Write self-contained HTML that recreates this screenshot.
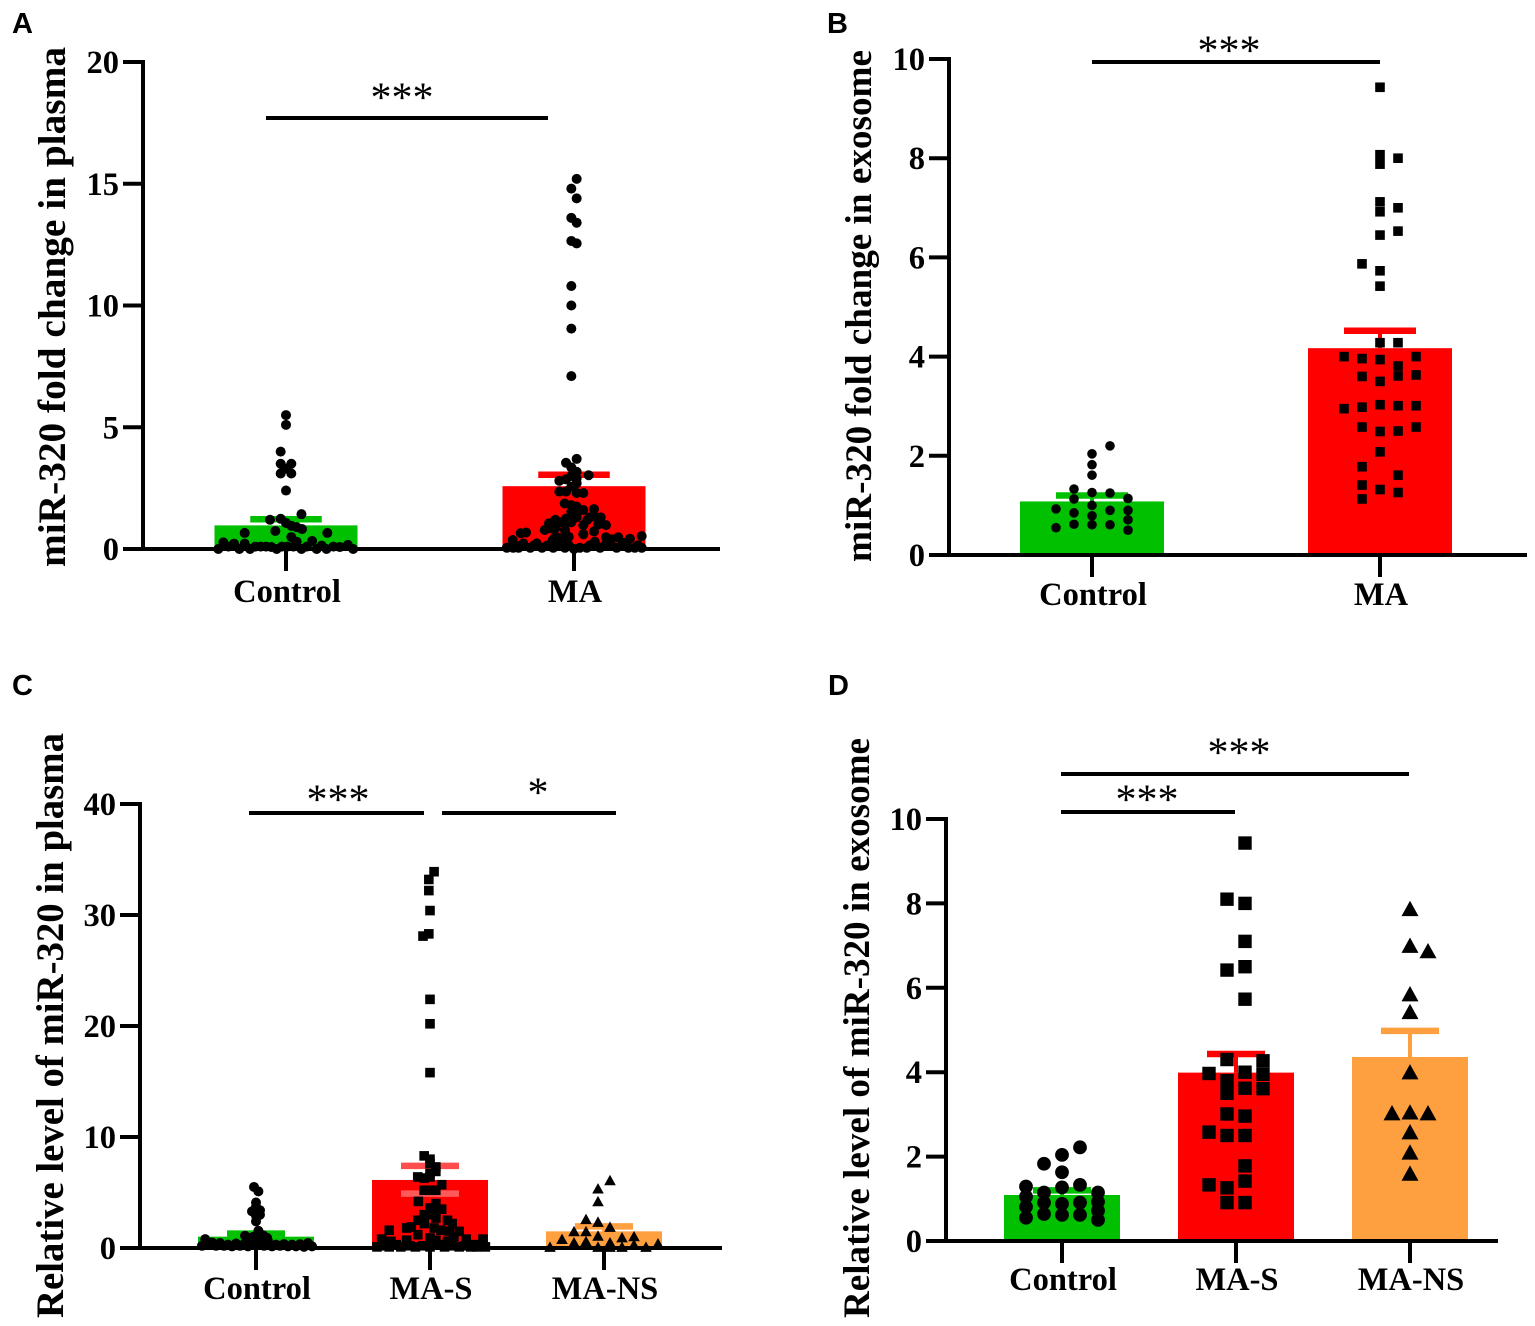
<!DOCTYPE html>
<html lang="en">
<head>
<meta charset="utf-8">
<title>miR-320 expression panels</title>
<style>
html,body{margin:0;padding:0;background:#fff;}
svg{display:block;}
text{font-family:"Liberation Serif",serif;fill:#000;}
.tick{font-weight:bold;font-size:32.5px;}
.title{font-weight:bold;}
.panel{font-family:"Liberation Sans",sans-serif;font-weight:bold;font-size:29px;}
.star{font-size:42px;}
</style>
</head>
<body>
<svg id="figure" xmlns="http://www.w3.org/2000/svg" width="1535" height="1326" viewBox="0 0 1535 1326"></svg>
<script>
// ---------- Panel A data ----------
const categoriesA = ['Control', 'MA'];
const meansA = [0.97, 2.58];
const errorsUpperA = [1.22, 3.05];
const errorsLowerA = [0.97, 2.58];
const ticksA = [0, 5, 10, 15, 20];
const controlValuesA = [5.5,5.1,4.0,3.5,3.5,3.1,3.1,3.3,2.4,1.43,1.2,1.24,1.07,0.95,0.9,0.82,0.74,0.66,0.66,0.49,0.33,0.3,
  0,0.27,0.1,0.22,0,0.22,0,0.1,0.1,0.1,0.08,0,0.1,0.1,0.1,0,0.1,0,0.14,0,0.1,0.08,0.17,0];
const controlSlotsA = [0,0,-1,-1,1,-1,1,0,0,2.9,-3,-1,0,1,2,3,-2,-7.75,7.75,1,4.9,2,
  -12.7,-11.75,-10.8,-9.75,-8.75,-7.75,-6.75,-5.75,-4.75,-3.75,-2.75,-1.75,-0.75,0.25,1.4,2.9,3.9,5.75,6.7,7.6,8.9,10.1,11.6,12.6];
const maValuesA = [15.2,14.8,14.4,13.6,13.4,12.65,12.55,10.8,10.0,9.05,7.1,3.7,3.54,3.35,3.17,3.03,3.0,2.9,2.86,2.8,2.7,2.56,2.36,2.36,2.3,2.3,
  1.87,1.8,1.74,1.6,1.64,1.53,1.45,1.35,1.3,1.3,1.25,1.2,1.25,1.3,1.2,1.05,1.1,1.05,1.1,1.0,0.98,0.98,0.78,0.85,0.85,0.78,0.72,0.62,0.5,0.45,0.5,
  0.65,0.68,0.37,0.23,0.23,0.37,0.45,0.6,0.3,0.48,0.4,0.48,0.42,0.53,0.25,
  0.05,0.05,0.05,0.05,0.05,0.05,0.05,0,0.05,0.05,0.05,0.05,0.05,0.05,0.05,
  0.15,0.15,0.15,0.15,0.15,0.15,0.15,0.15,0.15,0.15];
const maSlotsA = [0.5,-0.5,0.5,-0.5,0.5,-0.5,0.5,-0.5,-0.5,-0.5,-0.5,0.5,-1.5,-0.5,0.5,2.75,-0.5,0.5,-1.5,-2.75,0.5,-0.5,-1.5,-2.75,0.5,1.75,
  -1.75,-0.5,0.5,1.75,3.75,-0.5,0.5,3.75,5,3,-1.5,-3.5,-0.5,0.5,2.5,-4.7,-2.7,-1.7,-0.5,4.5,6,1.75,-5.5,-4.5,-3.5,-1.7,3.75,1.75,-3.5,-2,-1,
  -10,-9,-11.5,-9.5,-7,-4,-2.7,1.75,3.9,6,7,8.3,10.5,12.7,9.25,
  -12.6,-11.4,-10.4,-8.2,-6,-3.9,-1.7,0,1.1,2.4,4.9,8,10.2,11.4,12.7,
  -10,-7.5,-5,-2.8,-1,3,5.8,7,9,12];

// ---------- Panel B data ----------
const categoriesB = ['Control', 'MA'];
const meansB = [1.08, 4.17];
const errorsUpperB = [1.2, 4.52];
const errorsLowerB = [1.08, 4.17];
const ticksB = [0, 2, 4, 6, 8, 10];
const controlValuesB = [2.2,2.04,1.82,1.61,1.33,1.26,1.25,1.13,1.14,0.93,1.0,0.9,0.9,0.85,0.79,0.71,0.62,0.61,0.61,0.55,0.5];
const controlSlotsB = [1,0,0,0,-1,0,1,-1,2,-2,0,1,2,-1,0,2,-1,0,1,-2,2];
const maValuesB = [9.43,8.07,8.0,7.88,7.12,7.0,6.92,6.53,6.45,5.87,5.73,5.42,
  4.28,4.28,4.0,3.96,3.94,4.0,3.81,3.6,3.61,3.63,3.5,3.03,2.98,3.01,3.01,2.95,2.58,2.49,2.5,2.58,2.08,1.78,1.61,1.41,1.32,1.26,1.13];
const maSlotsB = [0,0,1,0,0,1,0,1,0,-1,0,0,
  0,1,-2,-1,0,2,1,-1,1,2,0,0,-1,1,2,-2,-1,0,1,2,0,-1,1,-1,0,1,-1];

// ---------- Panel C data ----------
const categoriesC = ['Control', 'MA-S', 'MA-NS'];
const meansC = [1.02, 6.13, 1.5];
const errorsUpperC = [1.3, 7.4, 1.95];
const errorsLowerC = [1.02, 4.9, 1.5];
const ticksC = [0, 10, 20, 30, 40];
const controlValuesC = [5.5,5.1,4.1,3.7,3.3,3.4,2.9,3.0,2.4,1.55,1.1,0.9,1.0,0.9,1.15,0.9,0.6,0.6,
  0.2,0.8,0.3,0.5,0.2,0.45,0.2,0.3,0.15,0.4,0.2,0.35,0.15,0.4,0.3,0.5,0.2,0.4,0.15,0.3,0.2,0.35,0.15,0.3,0.15,0.35,0.1,0.45,0.15];
const controlSlotsC = [-0.5,0.6,0,0,-1,1,0,1,0,0.6,-2.75,-1.7,-0.7,0.6,1.8,2.8,3,-0.3,
  -13.5,-12.7,-12,-11,-10,-9,-8,-7,-6,-5,-4,-3,-2,-1,0,1,2,3,4,5,6,7,8,9,10,11,12,13,14];
const masValuesC = [33.9,33.2,32.2,30.4,28.3,28.1,22.4,20.2,15.8,
  8.3,8.0,7.6,7.3,6.9,6.7,6.4,6.3,6.4,5.7,5.2,5.2,5.2,4.2,4.0,3.6,3.5,3.3,3.0,3.0,2.5,2.7,2.5,2.2,2.2,1.8,1.9,1.6,1.8,1.6,1.5,1.5,1.2,0.9,0.8,0.7,0.7,1.0,0.8,0.8,0.6,0.6,
  0.1,0.2,0.1,0.3,0.1,0.2,0.1,0.2,0.1,0.3,0.1,0.2,0.1,0.2,0.1,0.3,0.1,0.2,0.1];
const masSlotsC = [0.7,-0.2,-0.2,0,-0.2,-1.2,0,0,0,
  -1,0,0,1,1,0,-2.1,-1,0,2,-1,0,1,-2,1,0,2,1,-1,0,-2.1,1,3,3.8,-1,-4,-3.2,-7,0.7,1.9,3.3,5,-2.1,0,-8.3,-4,1,4.1,6.2,9.1,-6.7,3,
  -9.1,-8,-7,-5.8,-5,-3.5,-2.5,-1.2,0,1.5,2.5,3.7,5,6,7,7.5,8,8.6,9.5];
const nsValuesC = [6.1,5.35,4.2,2.6,2.35,1.9,1.5,1.5,1.1,0.8,0.95,1.05,0.5,0.6,0.5,0.1,0.1,0.1,0.1,0.4,0.3,0.1];
const nsSlotsC = [0.5,-0.5,-0.5,-1.5,-0.5,0.5,-2.5,-1.5,-0.5,-3.5,1.5,2.5,-2.5,-1.5,0.5,-4.5,-0.5,1.5,3.5,4.5,2.5,0.5];

// ---------- Panel D data ----------
const categoriesD = ['Control', 'MA-S', 'MA-NS'];
const meansD = [1.09, 3.99, 4.36];
const errorsUpperD = [1.2, 4.43, 4.98];
const errorsLowerD = [1.09, 3.99, 4.36];
const ticksD = [0, 2, 4, 6, 8, 10];
const controlValuesD = [2.22,2.04,1.83,1.63,1.29,1.27,1.33,1.15,1.15,1.05,0.91,0.88,0.91,0.93,0.81,0.64,0.62,0.62,0.72,0.55,0.5];
const controlSlotsD = [1,0,-1,0,-2,0,1,-1,2,-2,-1,0,1,2,-2,-1,0,1,2,-2,2];
const masValuesD = [9.43,8.1,8.0,7.1,6.5,6.42,5.73,4.3,4.27,3.97,4.0,3.95,3.8,3.62,3.61,3.5,3.01,2.96,2.58,2.5,2.5,1.78,1.42,1.33,1.26,0.91,0.91];
const masSlotsD = [0.5,-0.5,0.5,0.5,0.5,-0.5,0.5,-0.5,1.5,-1.5,0.5,1.5,-0.5,0.5,1.5,-0.5,-0.5,0.5,-1.5,-0.5,0.5,0.5,0.5,-1.5,-0.5,-0.5,0.5];
const nsValuesD = [7.87,7.0,6.87,5.85,5.43,4.0,3.03,3.05,3.03,2.58,2.1,1.6];
const nsSlotsD = [0,0,1,0,0,0,-1,0,1,0,0,0];

// ---------- Layout ----------
const NS = 'http://www.w3.org/2000/svg';
const figure = document.getElementById('figure');
const GREEN = '#00c000', RED = '#ff0000', ORANGE = '#ffa040';

function make(tag, attrs, text) {
  const node = document.createElementNS(NS, tag);
  for (const key in attrs) node.setAttribute(key, attrs[key]);
  if (text !== undefined) node.textContent = text;
  figure.appendChild(node);
  return node;
}

function yScale(p, v) { return p.y0 - (v - p.ticks[0]) * (p.y0 - p.y1) / (p.ticks[p.ticks.length - 1] - p.ticks[0]); }
function xScale(p, i) { return p.cx0 + i * p.cxStep; }

function drawMark(p, shape, x, y, s) {
  let m;
  if (shape === 'circle') {
    m = make('circle', {cx: x, cy: y, r: s, fill: '#000'});
  } else if (shape === 'square') {
    m = make('rect', {x: x - s, y: y - s, width: 2 * s, height: 2 * s, fill: '#000'});
  } else {
    m = make('polygon', {points: (x - s) + ',' + (y + s * 0.85) + ' ' + (x + s) + ',' + (y + s * 0.85) + ' ' + x + ',' + (y - s * 0.95), fill: '#000'});
  }
  
  
}

function drawPanel(p) {
  const letter = make('text', {x: p.letterX, y: p.letterY, class: 'panel'}, p.letter);
  
  

  const titleCy = (p.titleTop + p.titleBottom) / 2;
  const title = make('text', {x: p.titleX, y: titleCy, class: 'title', 'font-size': p.titleSize, 'text-anchor': 'middle', transform: 'rotate(-90 ' + p.titleX + ' ' + titleCy + ')', textLength: p.titleBottom - p.titleTop, lengthAdjust: 'spacingAndGlyphs'}, p.title);
  
  

  p.categories.forEach(function (cat, i) {
    const cx = xScale(p, i);
    const top = yScale(p, p.means[i]);
    const bar = make('rect', {x: cx - p.barW / 2, y: top, width: p.barW, height: p.y0 - top, fill: p.colors[i]});
    
    

    const up = yScale(p, p.upper[i]);
    const low = yScale(p, p.lower[i]);
    const stem = make('line', {x1: cx, x2: cx, y1: low, y2: up, stroke: p.colors[i], 'stroke-width': 4});
    
    
    const cap = make('line', {x1: cx - p.barW / 4, x2: cx + p.barW / 4, y1: up, y2: up, stroke: p.capColors ? p.capColors[i] : p.colors[i], 'stroke-width': 6.5});
    
    
    if (p.lower[i] < p.means[i]) {
      const capLow = make('line', {x1: cx - p.barW / 4, x2: cx + p.barW / 4, y1: low, y2: low, stroke: '#ff5a5a', 'stroke-width': 6.5});
      
      
    }
  });

  const yAxis = make('line', {x1: p.axisX, x2: p.axisX, y1: p.y1 - 2, y2: p.y0 + 2, stroke: '#000', 'stroke-width': 4});
  
  
  const xAxis = make('line', {x1: p.axisX - 20, x2: p.axisEnd, y1: p.y0, y2: p.y0, stroke: '#000', 'stroke-width': 4});
  
  

  p.ticks.forEach(function (t) {
    const y = yScale(p, t);
    const tick = make('line', {x1: p.axisX - 20, x2: p.axisX, y1: y, y2: y, stroke: '#000', 'stroke-width': 4});
    
    
    const label = make('text', {x: p.axisX - 24, y: y + 11, class: 'tick', 'text-anchor': 'end'}, t);
    
    
  });

  p.categories.forEach(function (cat, i) {
    const cx = xScale(p, i);
    const tick = make('line', {x1: cx, x2: cx, y1: p.y0, y2: p.y0 + 22, stroke: '#000', 'stroke-width': 4});
    
    
    const label = make('text', {x: cx + 1, y: p.catY, class: 'tick', 'text-anchor': 'middle'}, cat);
    
    
  });

  p.series.forEach(function (s, i) {
    s.values.forEach(function (v, j) {
      drawMark(p, s.shape, xScale(p, i) + s.slots[j] * s.step, yScale(p, v), s.size);
    });
  });

  p.sigs.forEach(function (g) {
    const line = make('line', {x1: g.x1, x2: g.x2, y1: g.y, y2: g.y, stroke: '#000', 'stroke-width': 4});
    
    
    const star = make('text', {x: g.sx, y: g.sy, class: 'star', 'text-anchor': 'middle'}, g.label);
    
    
  });
}

drawPanel({
  letter: 'A', letterX: 12, letterY: 33,
  title: 'miR-320 fold change in plasma', titleX: 65, titleTop: 47, titleBottom: 567, titleSize: 39,
  categories: categoriesA, means: meansA, upper: errorsUpperA, lower: errorsLowerA, ticks: ticksA,
  colors: [GREEN, RED],
  axisX: 143, axisEnd: 720, y0: 549, y1: 62, cx0: 286, cxStep: 288, barW: 143, catY: 602,
  series: [
    {values: controlValuesA, slots: controlSlotsA, shape: 'circle', size: 5, step: 5.33},
    {values: maValuesA, slots: maSlotsA, shape: 'circle', size: 5, step: 5.33}
  ],
  sigs: [{x1: 266, x2: 548, y: 118, sx: 402, sy: 111.5, label: '***'}]
});

drawPanel({
  letter: 'B', letterX: 827, letterY: 33,
  title: 'miR-320 fold change in exosome', titleX: 871, titleTop: 50, titleBottom: 562, titleSize: 37.2,
  categories: categoriesB, means: meansB, upper: errorsUpperB, lower: errorsLowerB, ticks: ticksB,
  colors: [GREEN, RED],
  axisX: 949, axisEnd: 1527, y0: 555, y1: 59, cx0: 1092, cxStep: 288, barW: 144, catY: 605,
  series: [
    {values: controlValuesB, slots: controlSlotsB, shape: 'circle', size: 4.8, step: 18},
    {values: maValuesB, slots: maSlotsB, shape: 'square', size: 4.8, step: 18}
  ],
  sigs: [{x1: 1092, x2: 1380, y: 62, sx: 1229, sy: 64.5, label: '***'}]
});

drawPanel({
  letter: 'C', letterX: 12, letterY: 695,
  title: 'Relative level of miR-320 in plasma', titleX: 63, titleTop: 733, titleBottom: 1318, titleSize: 38.8,
  categories: categoriesC, means: meansC, upper: errorsUpperC, lower: errorsLowerC, ticks: ticksC,
  colors: [GREEN, RED, ORANGE], capColors: [GREEN, '#ff4d4d', ORANGE],
  axisX: 140, axisEnd: 722, y0: 1248, y1: 804, cx0: 256, cxStep: 174, barW: 116, catY: 1299,
  series: [
    {values: controlValuesC, slots: controlSlotsC, shape: 'circle', size: 5, step: 4},
    {values: masValuesC, slots: masSlotsC, shape: 'square', size: 4.8, step: 5.83},
    {values: nsValuesC, slots: nsSlotsC, shape: 'triangle', size: 5.8, step: 12}
  ],
  sigs: [
    {x1: 249, x2: 424, y: 813, sx: 338, sy: 813.5, label: '***'},
    {x1: 442, x2: 616, y: 813, sx: 538, sy: 806.5, label: '*'}
  ]
});

drawPanel({
  letter: 'D', letterX: 828, letterY: 695,
  title: 'Relative level of miR-320 in exosome', titleX: 869, titleTop: 738, titleBottom: 1318, titleSize: 37.1,
  categories: categoriesD, means: meansD, upper: errorsUpperD, lower: errorsLowerD, ticks: ticksD,
  colors: [GREEN, RED, ORANGE],
  axisX: 946, axisEnd: 1498, y0: 1241, y1: 819, cx0: 1062, cxStep: 174, barW: 116, catY: 1290,
  series: [
    {values: controlValuesD, slots: controlSlotsD, shape: 'circle', size: 6.9, step: 18},
    {values: masValuesD, slots: masSlotsD, shape: 'square', size: 6.7, step: 18},
    {values: nsValuesD, slots: nsSlotsD, shape: 'triangle', size: 8.5, step: 18}
  ],
  sigs: [
    {x1: 1061, x2: 1409, y: 774, sx: 1239, sy: 766.5, label: '***'},
    {x1: 1061, x2: 1235, y: 812, sx: 1147, sy: 813.5, label: '***'}
  ]
});
</script>
</body>
</html>
